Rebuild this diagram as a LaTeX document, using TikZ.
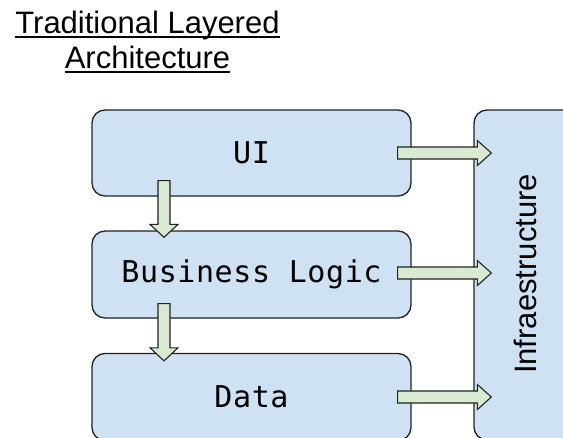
\documentclass[tikz,border=0pt]{standalone}
\usepackage{fontspec}
\setmainfont{Liberation Sans}
\newfontfamily\boxfont[LetterSpace=2]{DejaVu Sans Mono}
\usetikzlibrary{calc}
\definecolor{boxblue}{HTML}{CFE2F3}
\definecolor{arrgreen}{HTML}{D9EAD3}
\definecolor{edge}{HTML}{222222}
\newcommand\harrow[2]{\draw[blk] ($(#1)+(0,-6)$) -- ($(#2)+(-14,-6)$) -- ($(#2)+(-14,-12.5)$) -- (#2) -- ($(#2)+(-14,12.5)$) -- ($(#2)+(-14,6)$) -- ($(#1)+(0,6)$) -- cycle;}
\newcommand\varrow[2]{\draw[blk] ($(#1)+(-6,0)$) -- ($(#2)+(-6,-13)$) -- ($(#2)+(-14,-13)$) -- (#2) -- ($(#2)+(14,-13)$) -- ($(#2)+(6,-13)$) -- ($(#1)+(6,0)$) -- cycle;}
\begin{document}
\begin{tikzpicture}[x=1pt,y=-1pt,
  layer/.style={draw=edge, line width=1.3pt, fill=boxblue, rounded corners=13pt, inner sep=0},
  lbl/.style={font=\boxfont\fontsize{30}{34}\selectfont, text=black},
  blk/.style={draw=edge, line width=1.1pt, fill=arrgreen, line join=miter},
  ttl/.style={font=\fontsize{31}{37}\selectfont, inner sep=0, anchor=base}]
\useasboundingbox (0,0) rectangle (563,437);
\clip (0,0) rectangle (563,437);
\fill[white] (0,0) rectangle (563,437);
% title
\node[ttl] (t1) at (147.5,33) {Traditional Layered};
\node[ttl] (t2) at (147.5,68) {Architecture};
\draw[line width=2pt] ([yshift=-3.5pt]t1.base west) -- ([yshift=-3.5pt]t1.base east);
\draw[line width=2pt] ([yshift=-3.5pt]t2.base west) -- ([yshift=-3.5pt]t2.base east);
% layers
\node[layer, lbl, minimum width=319pt, minimum height=86pt] (ui) at (251.5,153) {UI};
\node[layer, lbl, minimum width=319pt, minimum height=87pt] (bl) at (251.5,274.5) {Business Logic};
\node[layer, lbl, minimum width=319pt, minimum height=87pt] (data) at (251.5,397) {Data};
\node[layer, minimum width=103pt, minimum height=330pt] (infra) at (525.5,275) {};
\node[rotate=90, font=\fontsize{31}{37}\selectfont, inner sep=0] (infratext) at (525,274) {Infraestructure};
% horizontal arrows
\coordinate (h1s) at ($(ui.east)+(-14,0)$);
\coordinate (h1e) at ($(ui.east -| infra.west)+(18,0)$);
\coordinate (h2s) at ($(bl.east)+(-14,-1.5)$);
\coordinate (h2e) at ($(bl.east -| infra.west)+(18,-1.5)$);
\coordinate (h3s) at ($(data.east)+(-14,0)$);
\coordinate (h3e) at ($(data.east -| infra.west)+(18,0)$);
\harrow{h1s}{h1e}
\harrow{h2s}{h2e}
\harrow{h3s}{h3e}
% vertical arrows
\coordinate (v1s) at ($(ui.south)+(-87.5,-16)$);
\coordinate (v1e) at ($(bl.north)+(-87.5,7)$);
\coordinate (v2s) at ($(bl.south)+(-87.5,-15)$);
\coordinate (v2e) at ($(data.north)+(-87.5,8)$);
\varrow{v1s}{v1e}
\varrow{v2s}{v2e}
\end{tikzpicture}
\end{document}
